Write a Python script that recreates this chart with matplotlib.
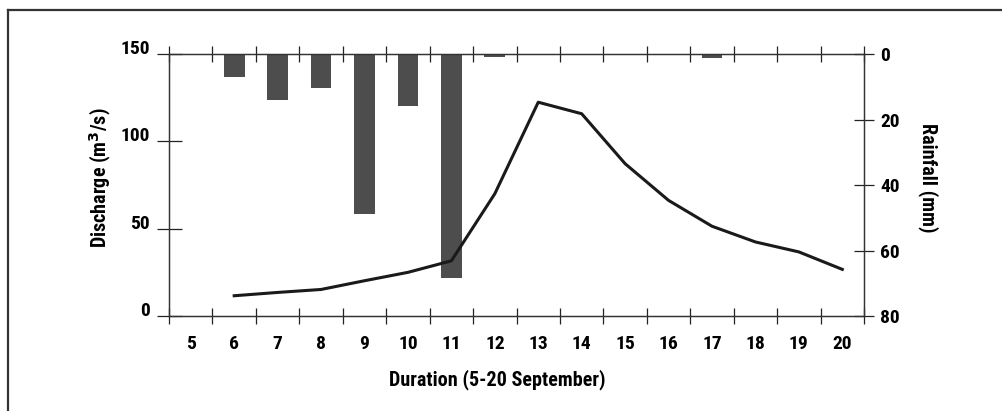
import matplotlib
matplotlib.use("Agg")
import matplotlib.pyplot as plt
from matplotlib.lines import Line2D
import numpy as np

# days of September
days = [5, 6, 7, 8, 9, 10, 11, 12, 13, 14, 15, 16, 17, 18, 19, 20]
# rainfall (mm), drawn downward from the top
rain_days = [6, 7, 8, 9, 10, 11, 12, 17]
rainfall = [7, 14, 10.5, 49, 16, 68.5, 0.8, 1.2]
# discharge (m3/s)
q_days = [6, 7, 8, 9, 10, 11, 12, 13, 14, 15, 16, 17, 18, 19, 20]
discharge = [11.6, 13.5, 15.2, 20.2, 25, 31.6, 70, 122.4, 115.8, 87.2, 66.2, 51.4, 42.4, 36.7, 26.7]

font = ["Roboto Condensed", "Liberation Sans", "DejaVu Sans"]
wt = 900

fig = plt.figure(figsize=(10.02, 4.11), dpi=100)
ax = fig.add_axes([0.1687, 0.2311, 0.6936, 0.6375])
ax2 = ax.twinx()

ax2.bar(rain_days, rainfall, width=0.48, bottom=0, color="#4d4d4d", zorder=2)
ax.plot(q_days, discharge, color="#1a1a1a", lw=2.2, zorder=3)
ax.set_zorder(ax2.get_zorder() + 1)
ax.patch.set_visible(False)

ax.set_xlim(4.5, 20.5)
ax.set_ylim(0, 150)
ax2.set_ylim(80, 0)

ax.set_xticks(np.arange(4.5, 21, 1))
ax.set_xticklabels([])
ax.set_xticks(days, minor=True)
ax.set_xticklabels([str(d) for d in days], minor=True)
ax.tick_params(axis="x", which="major", direction="inout", length=12, width=0.9,
               top=True, bottom=True, color="#222222")
ax.tick_params(axis="x", which="minor", length=0, pad=14)

ax.set_yticks([0, 50, 100, 150])
ax.tick_params(axis="y", direction="inout", length=18, width=0.9, pad=5, color="#222222")
ax2.set_yticks([0, 20, 40, 60, 80])
ax2.tick_params(axis="y", direction="inout", length=15, width=0.9, pad=4, color="#222222")

for lab in ax.get_xticklabels(minor=True) + ax.get_yticklabels() + ax2.get_yticklabels():
    lab.set_fontfamily(font)
    lab.set_fontweight(wt)
    lab.set_fontsize(14)
# left labels sit just above their ticks
for lab in ax.get_yticklabels():
    lab.set_va("baseline")

for a in (ax, ax2):
    for s in a.spines.values():
        s.set_linewidth(0.9)
        s.set_color("#333333")

fig.text(100 / 1002, 1 - 178 / 411, "Discharge (m$^\\mathbf{3}$/s)", family=font, weight=wt,
         fontsize=14.5, rotation=90, ha="center", va="center", rotation_mode="anchor")
fig.text(928 / 1002, 1 - 178 / 411, "Rainfall (mm)", family=font, weight=wt, fontsize=14.5,
         rotation=-90, ha="center", va="center", rotation_mode="anchor")
fig.text(497 / 1002, 1 - 380 / 411, "Duration (5-20 September)", family=font,
         weight=wt, fontsize=14.5, ha="center", va="center")

# outer frame (left and top edges visible)
fig.add_artist(Line2D([7.5 / 1002, 7.5 / 1002], [0, 1 - 10.5 / 411],
                      transform=fig.transFigure, color="#333333", lw=1.6))
fig.add_artist(Line2D([7.5 / 1002, 1], [1 - 10.5 / 411, 1 - 10.5 / 411],
                      transform=fig.transFigure, color="#333333", lw=1.6))

fig.savefig("out.png", dpi=100)
